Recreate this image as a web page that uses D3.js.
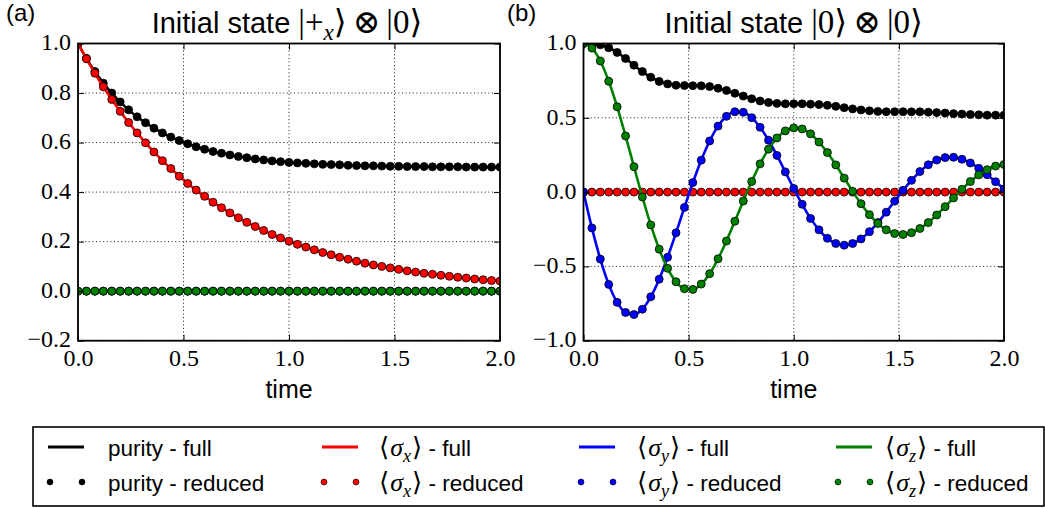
<!DOCTYPE html>
<html><head><meta charset="utf-8">
<script src="https://cdn.jsdelivr.net/npm/d3@7"></script>
<style>body{margin:0;background:#fff}</style>
</head><body>
<script>
// ---------------- data ----------------
const time = [0,0.04,0.08,0.12,0.16,0.2,0.24,0.28,0.32,0.36,0.4,0.44,0.48,0.52,0.56,0.6,0.64,0.68,0.72,0.76,0.8,0.84,0.88,0.92,0.96,1,1.04,1.08,1.12,1.16,1.2,1.24,1.28,1.32,1.36,1.4,1.44,1.48,1.52,1.56,1.6,1.64,1.68,1.72,1.76,1.8,1.84,1.88,1.92,1.96,2];

// panel (a): initial state |+x> ⊗ |0>
const purityA = [1.000,0.940,0.887,0.840,0.800,0.764,0.732,0.704,0.680,0.658,0.639,0.622,0.608,0.595,0.583,0.573,0.564,0.557,0.550,0.544,0.539,0.534,0.530,0.526,0.523,0.520,0.518,0.516,0.514,0.512,0.511,0.510,0.508,0.507,0.506,0.506,0.505,0.504,0.504,0.503,0.503,0.503,0.502,0.502,0.502,0.502,0.501,0.501,0.501,0.501,0.501];
const sigmaXA = [1.000,0.938,0.880,0.825,0.774,0.726,0.681,0.639,0.599,0.562,0.527,0.495,0.464,0.435,0.408,0.383,0.359,0.337,0.316,0.296,0.278,0.261,0.245,0.229,0.215,0.202,0.189,0.178,0.167,0.156,0.147,0.137,0.129,0.121,0.113,0.106,0.100,0.094,0.088,0.082,0.077,0.072,0.068,0.064,0.060,0.056,0.053,0.049,0.046,0.043,0.041];
const sigmaYA = [0,0,0,0,0,0,0,0,0,0,0,0,0,0,0,0,0,0,0,0,0,0,0,0,0,0,0,0,0,0,0,0,0,0,0,0,0,0,0,0,0,0,0,0,0,0,0,0,0,0,0];
const sigmaZA = [0,0,0,0,0,0,0,0,0,0,0,0,0,0,0,0,0,0,0,0,0,0,0,0,0,0,0,0,0,0,0,0,0,0,0,0,0,0,0,0,0,0,0,0,0,0,0,0,0,0,0];

// panel (b): initial state |0> ⊗ |0>
const purityB = [1.000,0.999,0.991,0.971,0.940,0.899,0.854,0.811,0.773,0.745,0.728,0.719,0.717,0.716,0.715,0.710,0.699,0.684,0.665,0.646,0.628,0.613,0.603,0.597,0.594,0.594,0.594,0.592,0.589,0.584,0.577,0.568,0.560,0.553,0.547,0.543,0.541,0.541,0.541,0.540,0.540,0.538,0.535,0.532,0.528,0.525,0.522,0.520,0.518,0.518,0.518];
const sigmaXB = [0,0,0,0,0,0,0,0,0,0,0,0,0,0,0,0,0,0,0,0,0,0,0,0,0,0,0,0,0,0,0,0,0,0,0,0,0,0,0,0,0,0,0,0,0,0,0,0,0,0,0];
const sigmaYB = [0.000,-0.241,-0.451,-0.621,-0.742,-0.810,-0.824,-0.788,-0.705,-0.586,-0.438,-0.274,-0.103,0.064,0.215,0.344,0.444,0.510,0.541,0.537,0.501,0.436,0.349,0.247,0.136,0.024,-0.082,-0.177,-0.254,-0.311,-0.346,-0.357,-0.346,-0.315,-0.266,-0.205,-0.135,-0.061,0.012,0.079,0.138,0.184,0.216,0.232,0.234,0.221,0.196,0.160,0.117,0.070,0.021];
const sigmaZB = [1.000,0.969,0.882,0.746,0.574,0.378,0.171,-0.033,-0.221,-0.384,-0.513,-0.603,-0.650,-0.655,-0.619,-0.549,-0.449,-0.329,-0.196,-0.060,0.071,0.190,0.289,0.364,0.412,0.432,0.425,0.392,0.337,0.266,0.183,0.094,0.005,-0.078,-0.152,-0.211,-0.254,-0.279,-0.285,-0.273,-0.245,-0.205,-0.154,-0.098,-0.039,0.019,0.071,0.116,0.151,0.175,0.186];

const xTicks = [0,0.5,1,1.5,2];
const xTickLabels = ["0.0","0.5","1.0","1.5","2.0"];
const yTicksA = [-0.2,0,0.2,0.4,0.6,0.8,1.0];
const yTickLabelsA = ["\u22120.2","0.0","0.2","0.4","0.6","0.8","1.0"];
const yTicksB = [-1,-0.5,0,0.5,1];
const yTickLabelsB = ["\u22121.0","\u22120.5","0.0","0.5","1.0"];
const seriesColors = ["#000000","#ff0000","#0000ff","#008000"];
const seriesSubs = [null,"x","y","z"];
const panelLetters = ["(a)","(b)"];
const xLabel = "time";

// ---------------- drawing ----------------
const SANS = "'Liberation Sans', Arial, Helvetica, sans-serif";
const SERIF = "'Liberation Serif', 'DejaVu Serif', serif";
const svg = d3.select("body").append("svg").attr("width",1045).attr("height",508)
  .style("background","#fff");

// rich text helper: parts = [[text, kind, dx]] kind: sans | rm | it | sub ; mathSize for serif parts
function rich(sel, parts, size, mathSize) {
  let shifted = 0;
  parts.forEach(([t,k,dx]) => {
    const ts = sel.append("tspan").text(t);
    if (k === "sans") ts.attr("font-family", SANS).attr("font-size", size);
    else ts.attr("font-family", SERIF).attr("font-size", mathSize);
    if (k === "it") ts.attr("font-style","italic");
    if (dx) ts.attr("dx", dx);
    if (k === "sub") {
      ts.attr("font-style","italic").attr("font-size", mathSize*0.7).attr("dy", mathSize*0.22);
      shifted = mathSize*0.22;
    } else if (shifted) {
      ts.attr("dy", -shifted); shifted = 0;
    }
  });
}

function drawPanel(cfg) {
  const {id,x0,x1,y0,y1,yDomain,yTicks,yLabels,series} = cfg;
  const x = d3.scaleLinear().domain([0,2]).range([x0,x1]);
  const y = d3.scaleLinear().domain(yDomain).range([y1,y0]);
  const g = svg.append("g");

  // grid
  const grid = g.append("g").attr("stroke","#000").attr("stroke-width",0.9).attr("stroke-dasharray","1,2.6");
  xTicks.forEach(v => grid.append("line").attr("x1",x(v)).attr("x2",x(v)).attr("y1",y0).attr("y2",y1));
  yTicks.forEach(v => grid.append("line").attr("y1",y(v)).attr("y2",y(v)).attr("x1",x0).attr("x2",x1));

  // clip
  svg.append("clipPath").attr("id","clip"+id).append("rect")
    .attr("x",x0).attr("y",y0).attr("width",x1-x0).attr("height",y1-y0);
  const plot = g.append("g").attr("clip-path",`url(#clip${id})`);
  const line = d3.line().x((d,i)=>x(time[i])).y(d=>y(d)).curve(d3.curveMonotoneX);
  series.forEach((vals,si) => {
    const c = seriesColors[si];
    plot.append("path").datum(vals).attr("d",line).attr("fill","none")
      .attr("stroke",c).attr("stroke-width",2.6);
    plot.append("g").selectAll("circle").data(vals).join("circle")
      .attr("cx",(d,i)=>x(time[i])).attr("cy",d=>y(d)).attr("r",4)
      .attr("fill",c).attr("stroke","#000").attr("stroke-width",0.8);
  });

  // axes (inward ticks on all sides)
  const styleAxis = a => { a.select(".domain").remove(); a.selectAll("line").attr("stroke","#000").attr("stroke-width",1);
    a.selectAll("text").attr("font-family",SERIF).attr("font-size",24).attr("fill","#000"); };
  g.append("g").attr("transform",`translate(0,${y1})`)
    .call(d3.axisBottom(x).tickValues(xTicks).tickFormat((d,i)=>xTickLabels[i]).tickSizeInner(-6).tickSizeOuter(0).tickPadding(8))
    .call(styleAxis);
  g.append("g").attr("transform",`translate(0,${y0})`)
    .call(d3.axisTop(x).tickValues(xTicks).tickFormat("").tickSizeInner(-6).tickSizeOuter(0))
    .call(styleAxis);
  g.append("g").attr("transform",`translate(${x0},0)`)
    .call(d3.axisLeft(y).tickValues(yTicks).tickFormat((d,i)=>yLabels[i]).tickSizeInner(-6).tickSizeOuter(0).tickPadding(7))
    .call(styleAxis)
    .call(a => a.selectAll("text").attr("dy","0.26em"));
  g.append("g").attr("transform",`translate(${x1},0)`)
    .call(d3.axisRight(y).tickValues(yTicks).tickFormat("").tickSizeInner(-6).tickSizeOuter(0))
    .call(styleAxis);

  // frame
  g.append("rect").attr("x",x0).attr("y",y0).attr("width",x1-x0).attr("height",y1-y0)
    .attr("fill","none").attr("stroke","#000").attr("stroke-width",1.8);

  // x label
  g.append("text").attr("x",(x0+x1)/2).attr("y",398).attr("text-anchor","middle")
    .attr("font-family",SANS).attr("font-size",25).text(xLabel);

  // title
  const t = g.append("text").attr("x",(x0+x1)/2 + cfg.titleDx).attr("y",33).attr("text-anchor","middle");
  rich(t, cfg.title, 29, 33);

  // panel letter
  g.append("text").attr("x",cfg.letterX).attr("y",21).attr("font-family",SANS)
    .attr("font-size",24).text(panelLetters[id]);
}

drawPanel({id:0, x0:78, x1:500, y0:43.5, y1:340.7, yDomain:[-0.2,1.0],
  yTicks:yTicksA, yLabels:yTickLabelsA, series:[purityA,sigmaXA,sigmaYA,sigmaZA],
  letterX:6, titleDx:-2,
  title:[["Initial state","sans"],["|+","rm",8],["x","sub"],["\u27E9","rm"],["\u2297","rm",6],["|0\u27E9","rm",6]]});
drawPanel({id:1, x0:583.5, x1:1004, y0:43.5, y1:340.7, yDomain:[-1,1],
  yTicks:yTicksB, yLabels:yTickLabelsB, series:[purityB,sigmaXB,sigmaYB,sigmaZB],
  letterX:507, titleDx:0,
  title:[["Initial state","sans"],["|0\u27E9","rm",8],["\u2297","rm",6],["|0\u27E9","rm",6]]});

// ---------------- legend ----------------
const leg = svg.append("g");
leg.append("rect").attr("x",33).attr("y",427).attr("width",1011).attr("height",79)
  .attr("fill","#fff").attr("stroke","#000").attr("stroke-width",1.6);
const colX = [48,322,579,836];
const textX = [108,379,637,885];
const LS = 22.5;
seriesColors.forEach((c,i) => {
  const lx = colX[i];
  leg.append("line").attr("x1",lx).attr("x2",lx+36).attr("y1",447).attr("y2",447)
    .attr("stroke",c).attr("stroke-width",3);
  [lx+2, lx+34].forEach(cx => leg.append("circle").attr("cx",cx).attr("cy",482).attr("r",3)
    .attr("fill",c).attr("stroke","#000").attr("stroke-width",0.6));
  ["full","reduced"].forEach((kind,r) => {
    const t = leg.append("text").attr("x",textX[i]).attr("y",r===0?456:491);
    const sub = seriesSubs[i];
    const parts = sub === null
      ? [["purity - "+kind,"sans"]]
      : [["\u27E8","rm"],["\u03C3","it",1],[sub,"sub"],["\u27E9","rm",1],[" - "+kind,"sans"]];
    rich(t, parts, LS, 26);
  });
});
</script>
</body></html>
